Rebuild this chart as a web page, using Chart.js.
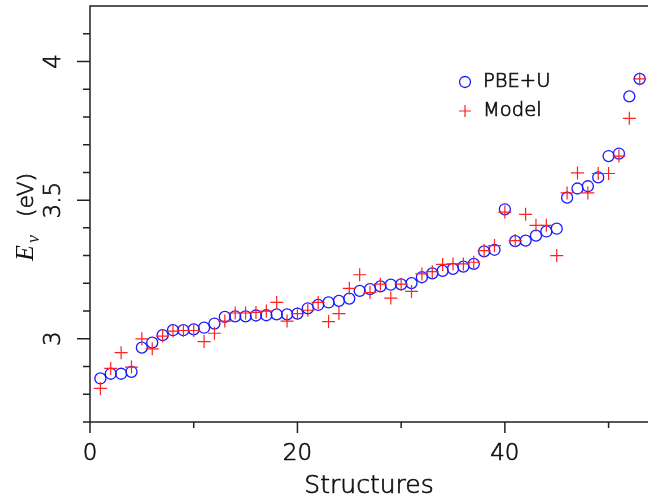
<!DOCTYPE html>
<html>
<head>
<meta charset="utf-8">
<script src="https://cdn.jsdelivr.net/npm/chart.js@4/dist/chart.umd.min.js"></script>
<style>
  body { margin: 0; background: #fff; }
  #wrap { width: 648px; height: 500px; }
</style>
</head>
<body>
<div id="wrap"><canvas id="evChart" width="648" height="500"></canvas></div>
<script>
const structures = [1, 2, 3, 4, 5, 6, 7, 8, 9, 10, 11, 12, 13, 14, 15, 16, 17, 18, 19, 20,
    21, 22, 23, 24, 25, 26, 27, 28, 29, 30, 31, 32, 33, 34, 35, 36, 37, 38, 39, 40,
    41, 42, 43, 44, 45, 46, 47, 48, 49, 50, 51, 52, 53]

const pbeU = [2.857, 2.874, 2.874, 2.881, 2.968, 2.986, 3.013, 3.031, 3.031, 3.034,
    3.040, 3.055, 3.079, 3.081, 3.081, 3.084, 3.085, 3.088, 3.088, 3.091,
    3.110, 3.122, 3.131, 3.137, 3.145, 3.173, 3.179, 3.189, 3.195, 3.196,
    3.201, 3.222, 3.236, 3.245, 3.252, 3.260, 3.270, 3.315, 3.321, 3.467,
    3.352, 3.354, 3.372, 3.387, 3.397, 3.509, 3.542, 3.550, 3.582, 3.659,
    3.668, 3.874, 3.937]

const model = [2.821, 2.893, 2.950, 2.898, 3.000, 2.964, 3.010, 3.028, 3.030, 3.030,
    2.990, 3.020, 3.064, 3.093, 3.093, 3.095, 3.100, 3.131, 3.064, 3.091,
    3.103, 3.131, 3.062, 3.091, 3.182, 3.231, 3.167, 3.197, 3.147, 3.197,
    3.171, 3.234, 3.242, 3.268, 3.270, 3.270, 3.276, 3.318, 3.336, 3.457,
    3.354, 3.449, 3.409, 3.409, 3.300, 3.526, 3.598, 3.526, 3.596, 3.596,
    3.659, 3.795, 3.937]

const xMajorTicks = [0, 20, 40]
const xMinorTicks = [10, 30, 50]
const yMajorTicks = [3, 3.5, 4]
const yMinorTicks = [2.7, 2.8, 2.9, 3.1, 3.2, 3.3, 3.4, 3.6, 3.7, 3.8, 3.9, 4.1]

const seriesNames = ["PBE+U", "Model"]
const font = "'DejaVu Sans', 'Liberation Sans', sans-serif"

function toPoints(ys) {
    return structures.map((x, i) => ({ x: x, y: ys[i] }))
}

// thin font, filled then lightly stroked to get the weight of the original
function label(ctx, text, x, y) {
    ctx.fillText(text, x, y)
    ctx.strokeText(text, x, y)
}

// axes, ticks, titles and legend are painted by hand so they look like the original figure
const framePlugin = {
    id: 'frame',
    afterDraw(chart) {
        const ctx = chart.ctx
        const area = chart.chartArea
        const xs = chart.scales.x
        const ys = chart.scales.y
        ctx.save()
        ctx.strokeStyle = '#222'
        ctx.fillStyle = '#222'
        ctx.lineWidth = 1.5

        ctx.beginPath()
        ctx.moveTo(area.left, area.bottom)
        ctx.lineTo(area.left, area.top)
        ctx.lineTo(area.right, area.top)
        ctx.moveTo(area.left, area.bottom)
        ctx.lineTo(area.right, area.bottom)
        ctx.stroke()

        ctx.beginPath()
        xMajorTicks.forEach(v => {
            const px = xs.getPixelForValue(v)
            ctx.moveTo(px, area.bottom)
            ctx.lineTo(px, area.bottom + 11)
        })
        xMinorTicks.forEach(v => {
            const px = xs.getPixelForValue(v)
            ctx.moveTo(px, area.bottom)
            ctx.lineTo(px, area.bottom + 6)
        })
        yMajorTicks.forEach(v => {
            const py = ys.getPixelForValue(v)
            ctx.moveTo(area.left, py)
            ctx.lineTo(area.left - 13, py)
        })
        yMinorTicks.forEach(v => {
            const py = ys.getPixelForValue(v)
            ctx.moveTo(area.left, py)
            ctx.lineTo(area.left - 7, py)
        })
        ctx.stroke()

        ctx.fillStyle = '#111'
        ctx.strokeStyle = '#111'
        ctx.lineWidth = 0.7
        ctx.font = '200 23px ' + font
        ctx.textAlign = 'center'
        ctx.textBaseline = 'middle'
        xMajorTicks.forEach(v => {
            label(ctx, String(v), xs.getPixelForValue(v), 454)
        })
        yMajorTicks.forEach(v => {
            ctx.save()
            ctx.translate(54, ys.getPixelForValue(v))
            ctx.rotate(-Math.PI / 2)
            label(ctx, String(v), 0, 0)
            ctx.restore()
        })

        ctx.font = '200 25px ' + font
        label(ctx, 'Structures', (area.left + area.right) / 2, 486)

        // y title: E_nu (eV), rotated
        ctx.save()
        ctx.translate(33, 261)
        ctx.rotate(-Math.PI / 2)
        ctx.textAlign = 'left'
        ctx.textBaseline = 'alphabetic'
        ctx.font = 'italic 26px "Liberation Serif", "DejaVu Serif", serif'
        ctx.fillText('E', 0, 0)
        const eW = ctx.measureText('E').width
        ctx.font = 'italic 18px "Liberation Serif", "DejaVu Serif", serif'
        ctx.fillText('\u03bd', eW + 2, 6)
        ctx.font = '200 22px ' + font
        label(ctx, '(eV)', 44, 0)
        ctx.restore()

        // legend
        ctx.textAlign = 'left'
        ctx.font = '200 19.5px ' + font
        label(ctx, seriesNames[0], 483, 82)
        label(ctx, seriesNames[1], 483, 111)
        ctx.lineWidth = 1.3
        ctx.strokeStyle = '#1a1aff'
        ctx.beginPath()
        ctx.arc(465, 82, 5.5, 0, Math.PI * 2)
        ctx.stroke()
        ctx.strokeStyle = '#ff2020'
        ctx.lineWidth = 1.2
        ctx.beginPath()
        ctx.moveTo(459, 111)
        ctx.lineTo(471, 111)
        ctx.moveTo(465, 105)
        ctx.lineTo(465, 117)
        ctx.stroke()
        ctx.restore()
    }
}

const evData = {
    datasets: [
        {
            label: seriesNames[0],
            data: toPoints(pbeU),
            pointStyle: 'circle',
            pointRadius: 5.5,
            borderColor: '#1a1aff',
            backgroundColor: 'rgba(0,0,0,0)',
            borderWidth: 1.3,
            order: 1,
        },
        {
            label: seriesNames[1],
            data: toPoints(model),
            pointStyle: 'cross',
            pointRadius: 6.5,
            borderColor: '#ff2020',
            backgroundColor: '#ff2020',
            borderWidth: 1.2,
            order: 0,
        },
    ],
}

const evConfig = {
    type: 'scatter',
    data: evData,
    options: {
        responsive: false,
        animation: false,
        layout: { autoPadding: false, padding: { left: 90, right: 0, top: 6, bottom: 78 } },
        plugins: { legend: { display: false }, tooltip: { enabled: false } },
        scales: {
            x: { type: 'linear', min: 0, max: 53.8, display: false },
            y: { type: 'linear', min: 2.7, max: 4.2, display: false },
        },
    },
    plugins: [framePlugin],
}

const evChart = new Chart(document.getElementById('evChart'), evConfig)
</script>
</body>
</html>
